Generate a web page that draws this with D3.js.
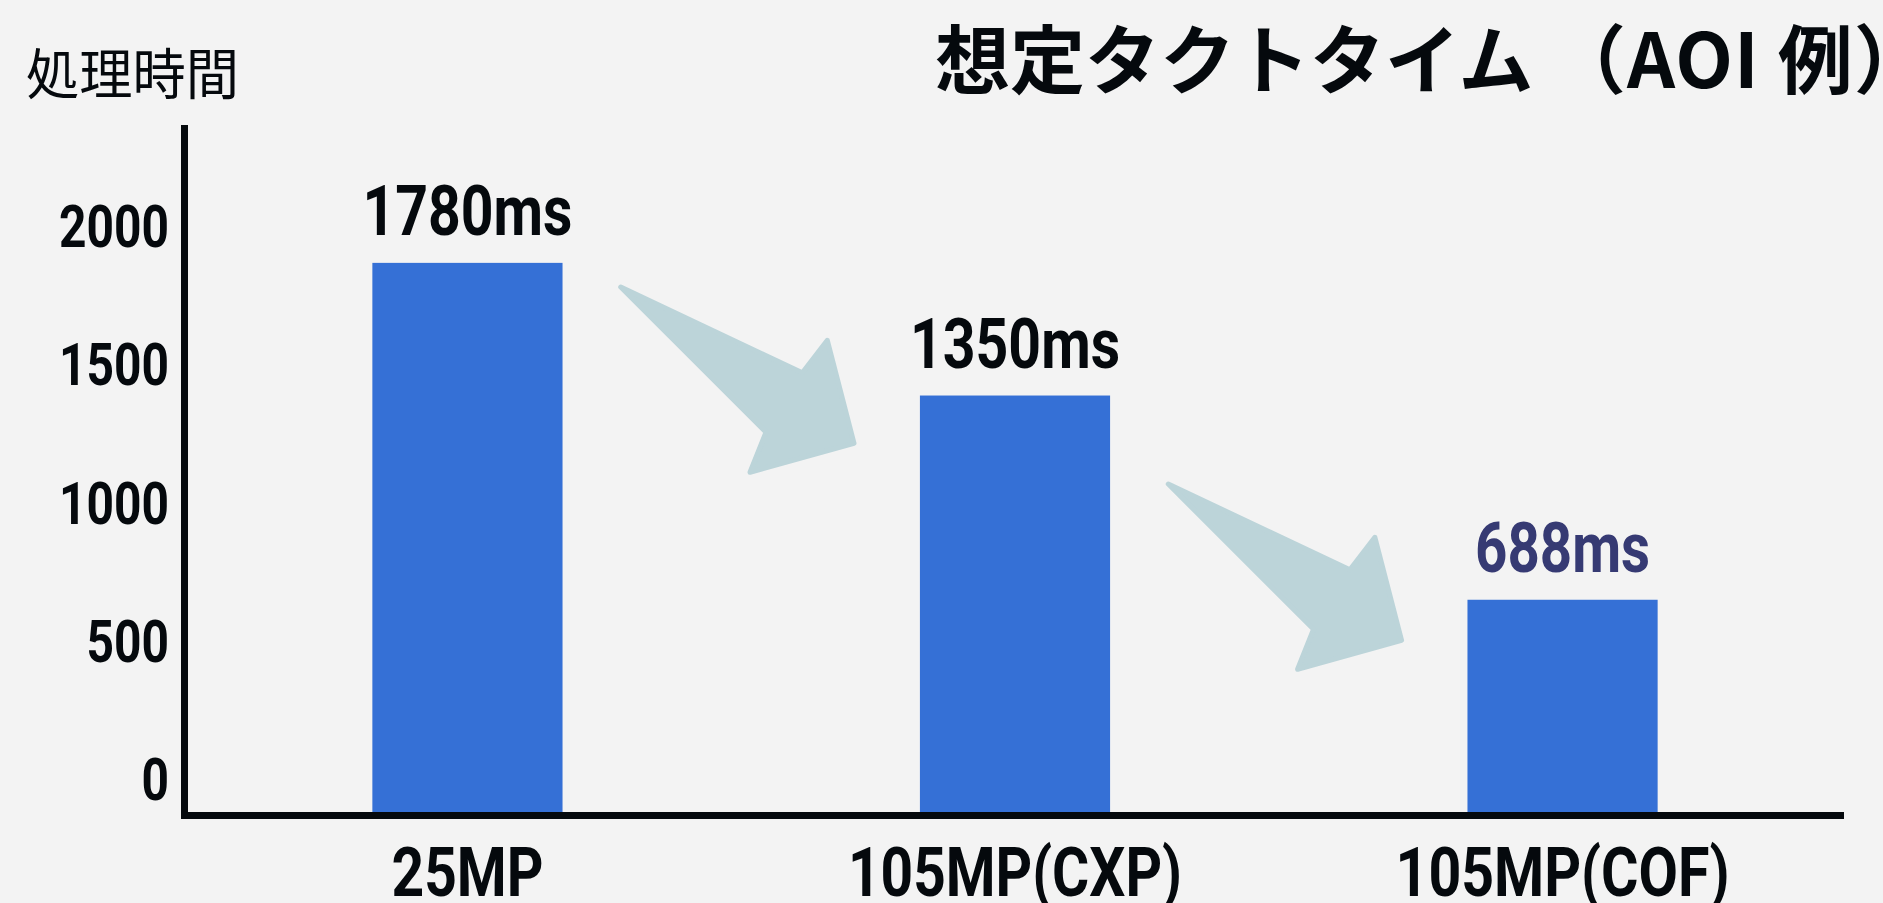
<!DOCTYPE html>
<html>
<head>
<meta charset="utf-8">
<script src="https://cdn.jsdelivr.net/npm/d3@7"></script>
<style>
  html, body { margin: 0; padding: 0; background: #f3f3f3; }
  svg { display: block; }
</style>
</head>
<body>
<div id="chart"></div>
<script>
// data
const categories = ["25MP", "105MP(CXP)", "105MP(COF)"];
const values = [1780, 1350, 688];
const valueLabels = ["1780ms", "1350ms", "688ms"];
const tickValues = [0, 500, 1000, 1500, 2000];
const titleMain = "想定タクトタイム";
const titleNote = "（AOI 例）";
const yLabel = "処理時間";

const width = 1883, height = 903;
const numFont = "Roboto, 'DejaVu Sans Condensed', sans-serif";
const cjkFont = "'Noto Sans CJK JP', 'Noto Sans CJK SC', sans-serif";
const ink = "#05090d";

// the numbers in the picture are set in a narrow face, so squeeze to the measured widths
const textWidth = (txt, perChar) => txt.length * perChar;

const svg = d3.select("#chart").append("svg")
  .attr("width", width)
  .attr("height", height);

svg.append("rect")
  .attr("width", width)
  .attr("height", height)
  .attr("fill", "#f3f3f3");

// scales
const x = d3.scaleBand()
  .domain(categories)
  .range([184, 1846])
  .paddingInner(0.6527)
  .paddingOuter(0.344);

const baseY = 812;
const y = d3.scaleLinear()
  .domain([0, 2000])
  .range([baseY, 195]);

// the tick labels on the left are spaced on their own, not on the bar scale
const yTicks = d3.scaleLinear()
  .domain([0, 2000])
  .range([778, 225]);

// arrows between neighbouring bars
const arrowShape = [
  [0, 0], [181.6, 85.8], [206.6, 53.3], [233.3, 156.3],
  [129.3, 185.3], [145.3, 145.3]
];
const arrowTop = d3.scaleLinear().domain([0, 1]).range([287, 484]);
const arrowLine = d3.line().curve(d3.curveLinearClosed);

d3.range(categories.length - 1).forEach(i => {
  const mid = (x(categories[i]) + x(categories[i + 1])) / 2 + x.bandwidth() / 2;
  svg.append("path")
    .attr("class", "arrow")
    .attr("transform", `translate(${mid - 120.5},${arrowTop(i)})`)
    .attr("d", arrowLine(arrowShape))
    .attr("fill", "#bcd4d9")
    .attr("stroke", "#bcd4d9")
    .attr("stroke-width", 5)
    .attr("stroke-linejoin", "round");
});

// bars
svg.selectAll(".bar")
  .data(values)
  .enter()
  .append("rect")
  .attr("class", "bar")
  .attr("x", (d, i) => x(categories[i]))
  .attr("y", d => y(d))
  .attr("width", x.bandwidth())
  .attr("height", d => baseY - y(d))
  .attr("fill", "#3570d6");

// value labels above bars
svg.selectAll(".value")
  .data(values)
  .enter()
  .append("text")
  .attr("class", "value")
  .attr("x", (d, i) => x(categories[i]) + x.bandwidth() / 2)
  .attr("y", d => y(d) - 28)
  .attr("text-anchor", "middle")
  .attr("textLength", (d, i) => textWidth(valueLabels[i], 35))
  .attr("lengthAdjust", "spacingAndGlyphs")
  .style("font-family", numFont)
  .style("font-weight", "bold")
  .style("font-size", "70px")
  .attr("fill", (d, i) => i === values.length - 1 ? "#363a73" : ink)
  .text((d, i) => valueLabels[i]);

// axes lines
svg.append("line")
  .attr("x1", 184.5).attr("x2", 184.5)
  .attr("y1", 125).attr("y2", 819)
  .attr("stroke", ink).attr("stroke-width", 7);
svg.append("line")
  .attr("x1", 181).attr("x2", 1844)
  .attr("y1", 815.5).attr("y2", 815.5)
  .attr("stroke", ink).attr("stroke-width", 7);

// y tick labels
const yAxis = svg.append("g")
  .attr("transform", "translate(169,0)")
  .call(d3.axisLeft(yTicks)
    .tickValues(tickValues)
    .tickFormat(d3.format("d"))
    .tickSize(0)
    .tickPadding(0));
yAxis.select(".domain").remove();
yAxis.selectAll("text")
  .attr("dy", "0.36em")
  .attr("fill", ink)
  .attr("textLength", d => textWidth(String(d), 27.5))
  .attr("lengthAdjust", "spacingAndGlyphs")
  .style("font-family", numFont)
  .style("font-weight", "bold")
  .style("font-size", "60px");

// x category labels
const xAxis = svg.append("g")
  .attr("transform", "translate(0,896)")
  .call(d3.axisBottom(x).tickSize(0).tickPadding(0));
xAxis.select(".domain").remove();
xAxis.selectAll("text")
  .attr("dy", 0)
  .attr("fill", ink)
  .attr("textLength", d => d.length > 5 ? 334 : 152)
  .attr("lengthAdjust", "spacingAndGlyphs")
  .style("font-family", numFont)
  .style("font-weight", "bold")
  .style("font-size", "69px");

// y axis label
svg.append("text")
  .attr("x", 26)
  .attr("y", 94)
  .attr("textLength", 213)
  .attr("lengthAdjust", "spacingAndGlyphs")
  .style("font-family", cjkFont)
  .style("font-size", "55px")
  .attr("fill", ink)
  .text(yLabel);

// title
const titleText = svg.append("text")
  .attr("y", 88)
  .style("font-family", cjkFont)
  .style("font-weight", "bold")
  .style("font-size", "75px")
  .attr("fill", ink);
titleText.append("tspan")
  .attr("x", 935)
  .text(titleMain);
titleText.append("tspan")
  .attr("x", 1551)
  .style("letter-spacing", "1px")
  .text(titleNote);
</script>
</body>
</html>
